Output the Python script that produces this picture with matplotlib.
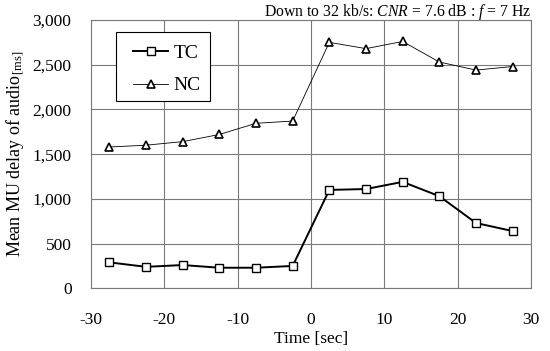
import matplotlib
matplotlib.use("Agg")
import matplotlib.pyplot as plt
from matplotlib.ticker import FuncFormatter
from matplotlib.patches import Rectangle

plt.rcParams['font.family'] = ['Liberation Serif', 'DejaVu Serif']
plt.rcParams['mathtext.fontset'] = 'custom'
plt.rcParams['mathtext.rm'] = 'Liberation Serif'
plt.rcParams['mathtext.it'] = 'Liberation Serif:italic'
plt.rcParams['axes.unicode_minus'] = False

time = [-27.5, -22.5, -17.5, -12.5, -7.5, -2.5, 2.5, 7.5, 12.5, 17.5, 22.5, 27.5]
tc = [290, 240, 260, 230, 230, 250, 1100, 1110, 1190, 1030, 730, 640]
nc = [1580, 1600, 1640, 1720, 1845, 1870, 2750, 2680, 2760, 2530, 2440, 2480]
xticks = [-30, -20, -10, 0, 10, 20, 30]
yticks = [0, 500, 1000, 1500, 2000, 2500, 3000]

fig = plt.figure(figsize=(5.5, 3.51), dpi=100)
ax = fig.add_axes([91/550, 1-288.3/351, 440/550, 268.3/351])

ax.plot(time, tc, color='black', lw=1.4, marker='s', ms=6, mfc='white', mec='black', mew=1.0, label='TC')
ax.plot(time, nc, color='black', lw=0.6, marker='^', ms=5.5, mfc='white', mec='black', mew=1.2, label='NC')

ax.set_xlim(-30, 30)
ax.set_ylim(0, 3000)
ax.set_xticks(xticks)
ax.set_yticks(yticks)
ax.yaxis.set_major_formatter(FuncFormatter(lambda v, p: f"{int(v):,}"))
ax.grid(True, color='#7a7a7a', lw=0.8)
for s in ax.spines.values():
    s.set_color('#7a7a7a')
    s.set_linewidth(0.8)
ax.tick_params(axis='both', length=0, labelsize=12.5)
ax.tick_params(axis='x', pad=17)
ax.tick_params(axis='y', pad=14)

ax.set_xlabel('Time [sec]', fontsize=12.5, labelpad=2)
ax.set_ylabel(r'Mean MU delay of audio$_{\mathrm{[ms]}}$', fontsize=13, labelpad=5)

fig.text(531/550, 1-12/351, r'Down to 32 kb/s: $CNR$ = 7.6 dB : $f$ = 7 Hz', ha='right', va='center', fontsize=11.3)

ax.add_patch(Rectangle(((116-91)/440, (288.3-101)/268.3), 94/440, 69/268.3, transform=ax.transAxes,
                       facecolor='white', edgecolor='black', lw=0.8, zorder=4))
leg = ax.legend(loc='upper left', bbox_to_anchor=((133-91)/440, (288.3-44)/268.3), borderaxespad=0,
                borderpad=0, fontsize=14, frameon=False, handlelength=1.8,
                labelspacing=0.78, handletextpad=0.3)
leg.set_zorder(5)

fig.savefig('out.png', dpi=100)
